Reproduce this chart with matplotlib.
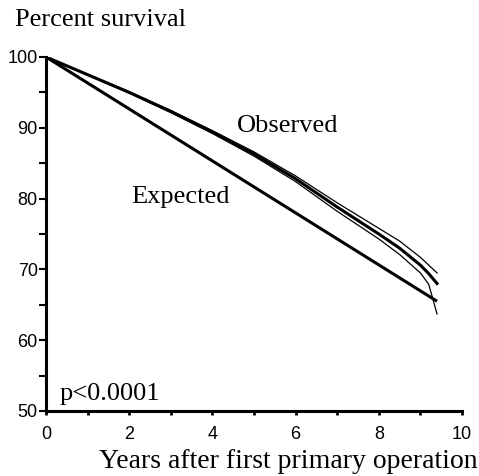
import matplotlib
matplotlib.use("Agg")
import matplotlib.pyplot as plt
from matplotlib.ticker import MultipleLocator

# Observed survival (centre line) and its confidence band
obs_years = [0, 1, 2, 3, 4, 5, 6, 7, 8, 8.5, 9, 9.2, 9.4]
obs_mid   = [100, 97.5, 95.0, 92.3, 89.4, 86.3, 82.8, 78.8, 75.0, 73.0, 70.6, 69.4, 68.0]
obs_upper = [100, 97.55, 95.1, 92.45, 89.6, 86.6, 83.2, 79.4, 75.8, 74.0, 71.7, 70.6, 69.5]
obs_lower = [100, 97.45, 94.9, 92.15, 89.2, 86.0, 82.4, 78.2, 74.3, 72.1, 69.5, 67.9, 63.7]

# Expected survival
exp_years = [0, 9.4]
exp_surv  = [100, 65.5]

serif = ["Liberation Serif", "DejaVu Serif"]
sans = ["Liberation Sans", "DejaVu Sans"]

fig = plt.figure(figsize=(4.79, 4.76), dpi=100)
ax = fig.add_axes([0.096, 0.1366, 0.8685, 0.7437])

ax.plot(exp_years, exp_surv, color="black", lw=2.2, solid_capstyle="butt")
ax.plot(obs_years, obs_upper, color="black", lw=0.9)
ax.plot(obs_years, obs_lower, color="black", lw=0.9)
ax.plot(obs_years, obs_mid, color="black", lw=2.2)

ax.set_xlim(0, 10)
ax.set_ylim(50, 100)
ax.spines["top"].set_visible(False)
ax.spines["right"].set_visible(False)
ax.spines["left"].set_linewidth(2.2)
ax.spines["bottom"].set_linewidth(2.2)

ax.xaxis.set_major_locator(MultipleLocator(2))
ax.xaxis.set_minor_locator(MultipleLocator(1))
ax.yaxis.set_major_locator(MultipleLocator(10))
ax.yaxis.set_minor_locator(MultipleLocator(5))
ax.tick_params(axis="y", which="both", direction="out", length=5, width=1.5, pad=1)
ax.tick_params(axis="x", which="both", direction="out", length=3, width=2, pad=8)
for lab in ax.get_xticklabels() + ax.get_yticklabels():
    lab.set_family(sans)
    lab.set_fontsize(13)

ax.text(0.33, 51.6, "p<0.0001", family=serif, fontsize=19, ha="left", va="baseline")
ax.text(2.05, 80.2, "Expected", family=serif, fontsize=19, ha="left", va="center")
ax.text(4.6, 90.3, "Observed", family=serif, fontsize=19, ha="left", va="center")

fig.text(15 / 479, 1 - 20 / 476, "Percent survival", family=serif, fontsize=19,
         ha="left", va="center")
fig.text(478 / 479, 1 - 462 / 476, "Years after first primary operation", family=serif,
         fontsize=20, ha="right", va="center")

fig.savefig("out.png", dpi=100)
